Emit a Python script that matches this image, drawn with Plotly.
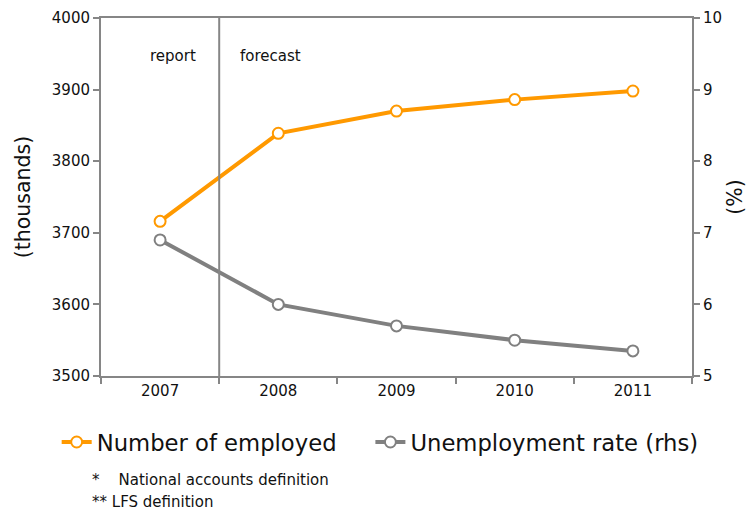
import plotly.graph_objects as go

years = ["2007", "2008", "2009", "2010", "2011"]
employed = [3716, 3839, 3870, 3886, 3898]
unemployment = [6.9, 6.0, 5.7, 5.5, 5.35]

orange = "#FF9900"
gray = "#808080"
axis_col = "#868686"
font = "DejaVu Sans"

fig = go.Figure()
fig.add_trace(go.Scatter(
    x=years, y=employed, name="Number of employed" + "\u00a0" * 4, mode="lines+markers",
    line=dict(color=orange, width=4),
    marker=dict(symbol="circle", size=11, color="white", line=dict(color=orange, width=2)),
))
fig.add_trace(go.Scatter(
    x=years, y=unemployment, name="Unemployment rate (rhs)", mode="lines+markers",
    yaxis="y2",
    line=dict(color=gray, width=4),
    marker=dict(symbol="circle", size=11, color="white", line=dict(color=gray, width=2)),
))

fig.add_shape(type="line", xref="x", yref="paper", x0=0.5, x1=0.5, y0=0, y1=1,
              line=dict(color=axis_col, width=2))

fig.add_annotation(x=0, y=3947, xref="x", yref="y", text="report", showarrow=False,
                   xshift=13, font=dict(family=font, size=15, color="#111"))
fig.add_annotation(x=1, y=3947, xref="x", yref="y", text="forecast", showarrow=False,
                   xshift=-8, font=dict(family=font, size=15, color="#111"))

fig.add_annotation(x=90, y=480, xref="paper", yref="paper", text="*    National accounts definition",
                   showarrow=False, xanchor="left", yanchor="middle")
fig.add_annotation(x=90, y=502, xref="paper", yref="paper", text="** LFS definition",
                   showarrow=False, xanchor="left", yanchor="middle")

fig.update_layout(
    width=747, height=510,
    margin=dict(l=101, r=55, t=18, b=134),
    paper_bgcolor="white", plot_bgcolor="white",
    font=dict(family=font, size=16, color="#111"),
    showlegend=True,
    legend=dict(orientation="h", x=-0.075, y=-0.125, xanchor="left", yanchor="top",
                font=dict(family=font, size=22.7, color="#111"),
                itemwidth=30, tracegroupgap=0),
    xaxis=dict(type="category", range=[-0.5, 4.5], showgrid=False, automargin=False,
               showline=True, linecolor=axis_col, linewidth=2, mirror=True,
               ticks="outside", tickson="boundaries", ticklen=6, tickcolor=axis_col, tickwidth=2,
               tickfont=dict(family=font, size=15, color="#111")),
    yaxis=dict(range=[3500, 4000], dtick=100, showgrid=False, automargin=False,
               showline=True, linecolor=axis_col, linewidth=2,
               ticks="outside", ticklen=6, tickcolor=axis_col, tickwidth=2,
               tickfont=dict(family=font, size=15, color="#111"),
               title=dict(text="(thousands)", font=dict(family=font, size=20.5, color="#111"), standoff=16)),
    yaxis2=dict(range=[5, 10], dtick=1, overlaying="y", side="right", showgrid=False, automargin=False,
                showline=True, linecolor=axis_col, linewidth=2,
                ticks="outside", ticklen=6, tickcolor=axis_col, tickwidth=2,
                tickfont=dict(family=font, size=15, color="#111"),
                title=dict(text="(%)", font=dict(family=font, size=20.5, color="#111"), standoff=14)),
)

plot_h = 510 - 18 - 134
plot_w = 747 - 101 - 55
for ann in fig.layout.annotations:
    if ann.xref == "paper":
        px, py = ann.x, ann.y
        ann.x = (px - 101) / plot_w
        ann.y = (510 - 134 - py) / plot_h
        ann.font = dict(family=font, size=15, color="#111")

fig.write_html("out.html")
